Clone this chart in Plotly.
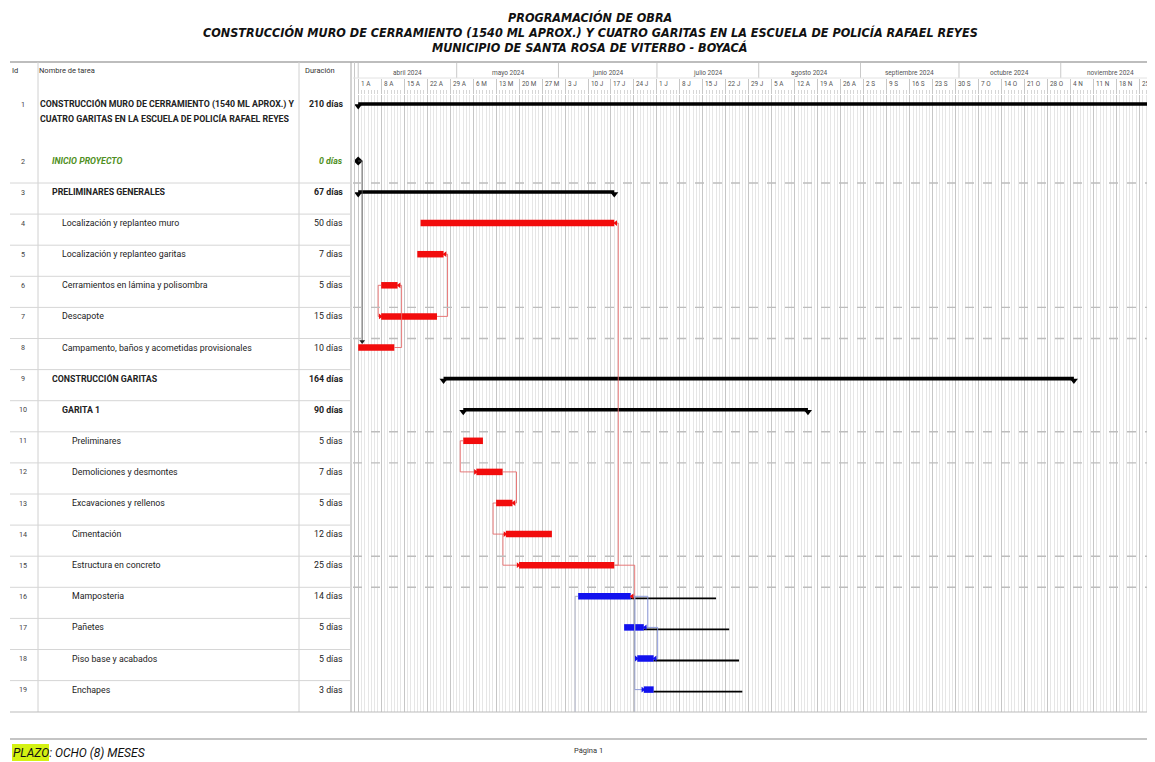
import plotly.graph_objects as go
import pandas as pd

# ---------------- data ----------------
task_ids = list(range(1, 20))
task_names = [
    "CONSTRUCCIÓN MURO DE CERRAMIENTO (1540 ML APROX.) Y<br>CUATRO GARITAS EN LA ESCUELA DE POLICÍA RAFAEL REYES",
    "INICIO PROYECTO",
    "PRELIMINARES GENERALES",
    "Localización y replanteo muro",
    "Localización y replanteo garitas",
    "Cerramientos en lámina y polisombra",
    "Descapote",
    "Campamento, baños y acometidas provisionales",
    "CONSTRUCCIÓN GARITAS",
    "GARITA 1",
    "Preliminares",
    "Demoliciones y desmontes",
    "Excavaciones y rellenos",
    "Cimentación",
    "Estructura en concreto",
    "Mamposteria",
    "Pañetes",
    "Piso base y acabados",
    "Enchapes",
]
durations = ["210 días", "0 días", "67 días", "50 días", "7 días", "5 días", "15 días",
             "10 días", "164 días", "90 días", "5 días", "7 días", "5 días", "12 días",
             "25 días", "14 días", "5 días", "5 días", "3 días"]
task_kind = ["summary", "milestone", "summary", "critical", "critical", "critical", "critical",
             "critical", "summary", "summary", "critical", "critical", "critical", "critical",
             "critical", "normal", "normal", "normal", "normal"]
outline_level = [0, 1, 1, 2, 2, 2, 2, 2, 1, 2, 3, 3, 3, 3, 3, 3, 3, 3, 3]
starts = ["2024-04-01", "2024-04-01", "2024-04-01", "2024-04-20", "2024-04-19", "2024-04-08",
          "2024-04-08", "2024-04-01", "2024-04-27", "2024-05-03", "2024-05-03", "2024-05-07",
          "2024-05-13", "2024-05-16", "2024-05-20", "2024-06-07", "2024-06-21", "2024-06-25",
          "2024-06-27"]
finishes = ["2024-12-02", "2024-04-01", "2024-06-18", "2024-06-18", "2024-04-27", "2024-04-13",
            "2024-04-25", "2024-04-12", "2024-11-05", "2024-08-16", "2024-05-09", "2024-05-15",
            "2024-05-18", "2024-05-30", "2024-06-18", "2024-06-23", "2024-06-27", "2024-06-30",
            "2024-06-30"]
slack_ids = [16, 17, 18, 19]
slack_finish = ["2024-07-19", "2024-07-23", "2024-07-26", "2024-07-27"]
# (predecessor, successor, type); successor None = task on following page
links = [(2, 8, "FS"), (8, 6, "FF"), (6, 7, "SS"), (7, 5, "FF"), (15, 4, "FF"),
         (11, 12, "SS"), (12, 13, "FF"), (13, 14, "SS"), (14, 15, "SS"), (15, 16, "FF"),
         (16, 17, "FF"), (17, 18, "FF"), (16, 18, "FS"), (16, 19, "FS"),
         (16, None, "FS"), (16, None, "SS")]
month_labels = ["abril 2024", "mayo 2024", "junio 2024", "julio 2024", "agosto 2024",
                "septiembre 2024", "octubre 2024", "noviembre 2024"]
month_starts = ["2024-04-01", "2024-05-01", "2024-06-01", "2024-07-01", "2024-08-01",
                "2024-09-01", "2024-10-01", "2024-11-01"]
week_labels = ["1 A", "8 A", "15 A", "22 A", "29 A", "6 M", "13 M", "20 M", "27 M", "3 J",
               "10 J", "17 J", "24 J", "1 J", "8 J", "15 J", "22 J", "29 J", "5 A", "12 A",
               "19 A", "26 A", "2 S", "9 S", "16 S", "23 S", "30 S", "7 O", "14 O", "21 O",
               "28 O", "4 N", "11 N", "18 N", "25 N"]
title_lines = ["PROGRAMACIÓN DE OBRA",
               "CONSTRUCCIÓN MURO DE CERRAMIENTO (1540 ML APROX.) Y CUATRO GARITAS EN LA ESCUELA DE POLICÍA RAFAEL REYES",
               "MUNICIPIO DE SANTA ROSA DE VITERBO - BOYACÁ"]

# ---------------- layout constants ----------------
OFF = 8                       # page body margin
W, H = 1155 - OFF, 762 - OFF
DAY_PX = 3.283
X0_PX = 358.2
T0 = pd.Timestamp("2024-04-01")
PL, PR, PT, PB = 353, 1155, 95, 712
ROW_H = 31.1
FONT = "Roboto, Lato, 'Noto Sans', sans-serif"
TFONT = "'Liberation Sans Narrow', 'DejaVu Sans Condensed', 'Arial Narrow', sans-serif"
RED, BLUE, BLACK = "#f20c0c", "#1212ee", "#000000"
LRED, LBLUE, LGRAY, LDARK = "#e46a6a", "#8190d8", "#a3a8bd", "#555555"


def PX(x):
    return (x - OFF) / W


def PY(y):
    return 1 - (y - OFF) / H


def px2date(p):
    return T0 + pd.Timedelta(days=(p - X0_PX) / DAY_PX)


def pxoff(p):
    return pd.Timedelta(days=p / DAY_PX)


heights = [57, 31] + [ROW_H] * 17
tops = []
acc = PT
for h in heights:
    tops.append(acc)
    acc += h
centers = [t + 9 for t in tops]

S = [pd.Timestamp(s) for s in starts]
F = [pd.Timestamp(f) for f in finishes]
idx = {tid: i for i, tid in enumerate(task_ids)}

fig = go.Figure()

# task bars
for kind, col in (("critical", RED), ("normal", BLUE)):
    ii = [i for i, k in enumerate(task_kind) if k == kind]
    fig.add_trace(go.Bar(
        orientation="h",
        base=[starts[i] for i in ii],
        x=[(F[i] - S[i]).total_seconds() * 1000 for i in ii],
        y=[centers[i] for i in ii],
        width=6.5, marker=dict(color=col, line=dict(width=0)),
        hoverinfo="skip"))

# summary bars
ii = [i for i, k in enumerate(task_kind) if k == "summary"]
fig.add_trace(go.Bar(
    orientation="h",
    base=[starts[i] for i in ii],
    x=[(F[i] - S[i]).total_seconds() * 1000 for i in ii],
    y=[centers[i] for i in ii],
    width=3.6, marker=dict(color=BLACK, line=dict(width=0)), hoverinfo="skip"))
tx, ty = [], []
for i in ii:
    tx += [starts[i], finishes[i]]
    ty += [centers[i] + 2, centers[i] + 2]
fig.add_trace(go.Scatter(x=tx, y=ty, mode="markers",
                         marker=dict(symbol="triangle-down", size=7, color=BLACK),
                         hoverinfo="skip"))

# milestone
mi = [i for i, k in enumerate(task_kind) if k == "milestone"]
fig.add_trace(go.Scatter(x=[starts[i] for i in mi], y=[centers[i] for i in mi], mode="markers",
                         marker=dict(symbol="diamond", size=7, color=BLACK), hoverinfo="skip"))

# slack lines
sx, sy = [], []
for tid, sf in zip(slack_ids, slack_finish):
    i = idx[tid]
    sx += [finishes[i], sf, None]
    sy += [centers[i] + 2, centers[i] + 2, None]
fig.add_trace(go.Scatter(x=sx, y=sy, mode="lines", line=dict(color=BLACK, width=1.8),
                         hoverinfo="skip"))

# dependency links
paths = {LRED: ([], []), LBLUE: ([], []), LGRAY: ([], []), LDARK: ([], [])}
arrow_fill = {LRED: RED, LBLUE: BLUE, LGRAY: LGRAY, LDARK: "#222222"}
arrows = []
off = pxoff(4)
for p, s, typ in links:
    pi = idx[p]
    yp = centers[pi]
    if s is None:
        col = LGRAY
    elif task_kind[pi] == "milestone":
        col = LDARK
    else:
        col = LRED if task_kind[pi] == "critical" else LBLUE
    xs, ys = paths[col]
    if typ == "FS":
        xm = F[pi] + off
        if s is None:
            pts = [(F[pi], yp), (xm, yp), (xm, PB)]
        else:
            si = idx[s]
            ysc = centers[si]
            if S[si] <= xm:
                pts = [(F[pi], yp), (xm, yp), (xm, ysc - 6)]
                arrows.append((xm, ysc - 6, "triangle-down", col))
            else:
                pts = [(F[pi], yp), (xm, yp), (xm, ysc), (S[si], ysc)]
                arrows.append((S[si] - pxoff(1), ysc, "triangle-right", col))
    elif typ == "FF":
        si = idx[s]
        ysc = centers[si]
        xm = max(F[pi], F[si]) + off
        pts = [(F[pi], yp), (xm, yp), (xm, ysc), (F[si], ysc)]
        arrows.append((F[si] + pxoff(1.5), ysc, "triangle-left", col))
    else:  # SS
        if s is None:
            xm = S[pi] - pxoff(3)
            pts = [(S[pi], yp), (xm, yp), (xm, PB)]
        else:
            si = idx[s]
            ysc = centers[si]
            xm = min(S[pi], S[si]) - pxoff(3)
            pts = [(S[pi], yp), (xm, yp), (xm, ysc), (S[si], ysc)]
            arrows.append((S[si] - pxoff(1), ysc, "triangle-right", col))
    for a, b in pts:
        xs.append(a)
        ys.append(b)
    xs.append(None)
    ys.append(None)
for col, (xs, ys) in paths.items():
    if xs:
        fig.add_trace(go.Scatter(x=xs, y=ys, mode="lines", line=dict(color=col, width=0.9),
                                 hoverinfo="skip"))
for col in paths:
    aa = [a for a in arrows if a[3] == col]
    if aa:
        fig.add_trace(go.Scatter(x=[a[0] for a in aa], y=[a[1] for a in aa], mode="markers",
                                 marker=dict(symbol=[a[2] for a in aa], size=5,
                                             color=arrow_fill[col]),
                                 hoverinfo="skip"))

# ---------------- shapes ----------------
shapes = []
gray = "#c9c9c9"
shapes.append(dict(type="line", xref="paper", yref="paper", x0=PX(10), x1=1, y0=PY(62), y1=PY(62),
                   line=dict(color="#bdbdbd", width=2)))
for x, y0 in ((38, 62), (299, 62), (351, 62)):
    shapes.append(dict(type="line", xref="paper", yref="paper", x0=PX(x), x1=PX(x), y0=PY(y0),
                       y1=PY(PB), line=dict(color="#d0d0d0" if x != 351 else "#a8a8a8", width=1)))
shapes.append(dict(type="line", xref="paper", yref="paper", x0=PX(354.5), x1=PX(354.5), y0=PY(62),
                   y1=PY(PB), line=dict(color="#c8c8c8", width=1)))
for i in range(2, len(tops)):
    shapes.append(dict(type="line", xref="paper", yref="y", x0=PX(10), x1=PX(351), y0=tops[i],
                       y1=tops[i], line=dict(color="#d6d6d6", width=1)))
shapes.append(dict(type="line", xref="paper", yref="paper", x0=PX(10), x1=1, y0=PY(PB), y1=PY(PB),
                   line=dict(color="#bcbcbc", width=1.2)))
for tid in (3, 7, 8, 11, 12, 15, 16):
    y = tops[idx[tid]]
    shapes.append(dict(type="line", xref="paper", yref="y", x0=PX(PL), x1=1, y0=y, y1=y,
                       line=dict(color="#bdbdbd", width=1.4, dash="dash")))
for ms in month_starts:
    shapes.append(dict(type="line", xref="x", yref="paper", x0=ms, x1=ms, y0=PY(63), y1=PY(78),
                       line=dict(color=gray, width=1)))
shapes.append(dict(type="line", xref="paper", yref="paper", x0=PX(PL), x1=1, y0=PY(78), y1=PY(78),
                   line=dict(color="#e2e2e2", width=1)))
shapes.append(dict(type="line", xref="paper", yref="paper", x0=PX(10), x1=1, y0=PY(739), y1=PY(739),
                   line=dict(color="#b0b0b0", width=1.5)))
shapes.append(dict(type="rect", xref="paper", yref="paper", x0=PX(12), x1=PX(49), y0=PY(744),
                   y1=PY(761), fillcolor="#d4f212", line=dict(width=0), layer="below"))

# ---------------- annotations ----------------
ann = []
for t, y in zip(title_lines, (17, 33, 48)):
    ann.append(dict(text=f"<b><i>{t}</i></b>", xref="paper", yref="paper", x=PX(590), y=PY(y),
                    xanchor="center", yanchor="middle", showarrow=False,
                    font=dict(family=TFONT, size=12.5, color="#111")))
for t, x in (("Id", 10), ("Nombre de tarea", 37), ("Duración", 303)):
    ann.append(dict(text=t, xref="paper", yref="paper", x=PX(x), y=PY(70), xanchor="left",
                    yanchor="middle", showarrow=False, font=dict(family=FONT, size=7.5, color="#333")))
indent_px = {0: 38, 1: 50, 2: 60, 3: 70}
TS = 8.8
for i, tid in enumerate(task_ids):
    kind = task_kind[i]
    bold = kind in ("summary", "milestone") or outline_level[i] <= 1
    green = kind == "milestone"
    col = "#4f8f22" if green else "#222"
    ann.append(dict(text=str(tid), xref="paper", yref="y", x=PX(23), y=centers[i],
                    xanchor="center", yanchor="middle", showarrow=False,
                    font=dict(family=FONT, size=7.2, color="#444")))
    for li, line in enumerate(task_names[i].split("<br>")):
        txt = line
        if bold:
            txt = f"<b>{txt}</b>"
        if green:
            txt = f"<i>{txt}</i>"
        ann.append(dict(text=txt, xref="paper", yref="y", x=PX(indent_px[outline_level[i]]),
                        y=centers[i] + li * 14, xanchor="left", yanchor="middle", showarrow=False,
                        font=dict(family=FONT, size=TS, color=col)))
    dtxt = durations[i]
    if bold:
        dtxt = f"<b>{dtxt}</b>"
    if green:
        dtxt = f"<i>{dtxt}</i>"
    ann.append(dict(text=dtxt, xref="paper", yref="y", x=PX(345), y=centers[i], xanchor="right",
                    yanchor="middle", showarrow=False, font=dict(family=FONT, size=TS, color=col)))
for ml, ms in zip(month_labels, month_starts):
    a = pd.Timestamp(ms)
    mid = a + (a + pd.offsets.MonthBegin(1) - a) / 2
    ann.append(dict(text=ml, xref="x", yref="paper", x=str(mid), y=PY(72.5), xanchor="center",
                    yanchor="middle", showarrow=False, font=dict(family=FONT, size=6.5, color="#555")))
week_starts = pd.date_range(starts[0], periods=len(week_labels), freq="7D")
for wl, ws in zip(week_labels, week_starts):
    ann.append(dict(text=wl, xref="x", yref="paper", x=str(ws + pxoff(0.5)), y=PY(84.5),
                    xanchor="left", yanchor="middle", showarrow=False,
                    font=dict(family=FONT, size=6.4, color="#555")))
ann.append(dict(text="<i>PLAZO: OCHO (8) MESES</i>", xref="paper", yref="paper", x=PX(11),
                y=PY(752.5), xanchor="left", yanchor="middle", showarrow=False,
                font=dict(family=FONT, size=12, color="#111")))
ann.append(dict(text="Página 1", xref="paper", yref="paper", x=PX(588), y=PY(750),
                xanchor="center", yanchor="middle", showarrow=False,
                font=dict(family=FONT, size=7.5, color="#333")))

fig.update_layout(
    width=W, height=H, margin=dict(l=0, r=0, t=0, b=0),
    paper_bgcolor="white", plot_bgcolor="white",
    showlegend=False, barmode="overlay", hovermode=False,
    shapes=shapes, annotations=ann,
    xaxis=dict(type="date", domain=[PX(PL), 1], range=[str(px2date(PL)), str(px2date(PR))],
               side="top", tick0=starts[0], dtick=7 * 86400000, showticklabels=False,
               ticks="outside", ticklen=15, tickcolor="#c8c8c8", tickwidth=1,
               showgrid=True, gridcolor="#c6c6c6", gridwidth=1, zeroline=False, showline=False,
               minor=dict(dtick=86400000, tick0=starts[0], showgrid=True, gridcolor="#e6e6e6",
                          gridwidth=1, ticks="outside", ticklen=4, tickcolor="#d6d6d6")),
    yaxis=dict(domain=[PY(PB), PY(PT)], range=[PB, PT], showticklabels=False, showgrid=False,
               zeroline=False, showline=False, ticks=""),
)

fig.write_html("out.html")
